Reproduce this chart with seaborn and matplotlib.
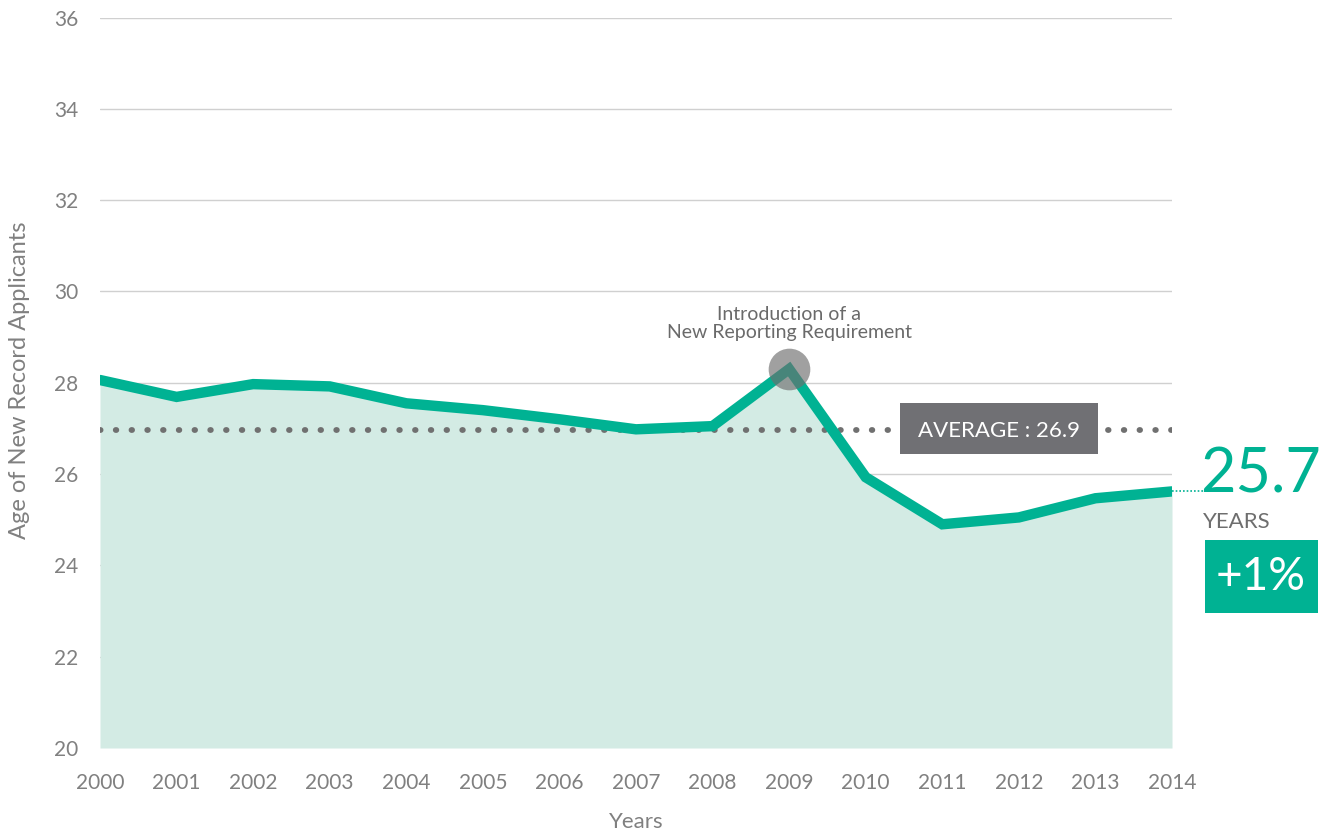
import matplotlib
matplotlib.use("Agg")
import matplotlib.pyplot as plt
import seaborn as sns
import pandas as pd
from matplotlib.patches import Rectangle

years = [2000, 2001, 2002, 2003, 2004, 2005, 2006, 2007, 2008, 2009, 2010, 2011, 2012, 2013, 2014]
ages = [28.06, 27.69, 27.97, 27.92, 27.55, 27.40, 27.20, 26.98, 27.05, 28.30, 25.93, 24.90, 25.05, 25.47, 25.62]
y_ticks = [20, 22, 24, 26, 28, 30, 32, 34, 36]
average_value = 26.97
average_label = "AVERAGE : 26.9"
latest_label = "25.7"
change_label = "+1%"
event_year = 2009
event_label = "Introduction of a\nNew Reporting Requirement"

TEAL = "#00b293"
FILL = "#d3ebe4"
GREY_TXT = "#808080"
BOX = "#707074"

sns.set_style("white")
plt.rcParams['font.family'] = ['Lato', 'DejaVu Sans']

df = pd.DataFrame({"Year": years, "Age": ages})

fig = plt.figure(figsize=(13.21, 8.35), dpi=100)
ax = fig.add_axes([100/1321, 1-748/835, (1172-100)/1321, (748-17.5)/835])

ax.set_xlim(2000, 2014)
ax.set_ylim(20, 36)
ax.set_yticks(y_ticks)
ax.set_xticks(years)
for t in y_ticks[1:]:
    ax.axhline(t, color="#d0d0d0", lw=1.0, zorder=0)

ax.fill_between(df["Year"], df["Age"], 20, color=FILL, lw=0, zorder=1)
ax.plot([2000, 2014], [average_value, average_value], ls=(0, (0.1, 2.6)), lw=4.2,
        color="#707070", dash_capstyle="round", zorder=2)
sns.lineplot(data=df, x="Year", y="Age", ax=ax, color=TEAL, lw=7.5, zorder=3,
             solid_joinstyle="miter", solid_capstyle="round")
ax.scatter([event_year], [ages[years.index(event_year)]], s=900, color="#6e6e6e",
           alpha=0.65, zorder=4, lw=0)

ax.annotate(event_label, xy=(event_year, ages[years.index(event_year)]), xytext=(0, 20),
            textcoords="offset points", ha="center", va="bottom", fontsize=14,
            color="#6a6a6a", linespacing=1.1)

# average box
bx0, bx1 = 2010.45, 2013.03
by0, by1 = 26.44, 27.555
ax.add_patch(Rectangle((bx0, by0), bx1 - bx0, by1 - by0, fc=BOX, ec="none", zorder=5))
ax.text((bx0 + bx1) / 2, (by0 + by1) / 2, average_label, ha="center", va="center_baseline",
        fontsize=16, color="white", zorder=6)

ax.plot([2014, 2014.45], [ages[-1], ages[-1]], ls=(0, (1, 1.2)), lw=1.2, color=TEAL,
        clip_on=False)
fig.text(1200/1321, 1-493/835, latest_label, fontsize=44, color=TEAL, ha="left",
         va="baseline")
fig.text(1203/1321, 1-528/835, "YEARS", fontsize=16, color="#6e6e6e", ha="left",
         va="baseline")
fig.patches.append(Rectangle((1205/1321, 1-613/835), 113/1321, 73/835,
                             transform=fig.transFigure, fc=TEAL, ec="none"))
fig.text(1261/1321, 1-577/835, change_label, fontsize=33, color="white", ha="center",
         va="center")

for s in ax.spines.values():
    s.set_visible(False)
ax.tick_params(axis="both", length=0, labelsize=15, labelcolor=GREY_TXT)
ax.tick_params(axis="x", pad=18)
ax.tick_params(axis="y", pad=15.5)
ax.set_xlabel("Years", fontsize=16, color=GREY_TXT)
ax.set_ylabel("Age of New Record Applicants", fontsize=17, color=GREY_TXT)
ax.xaxis.set_label_coords(0.5, (748-812)/730.5)
ax.yaxis.set_label_coords((30-100)/1072, (748-380)/730.5)

fig.savefig("out.png", dpi=100)
